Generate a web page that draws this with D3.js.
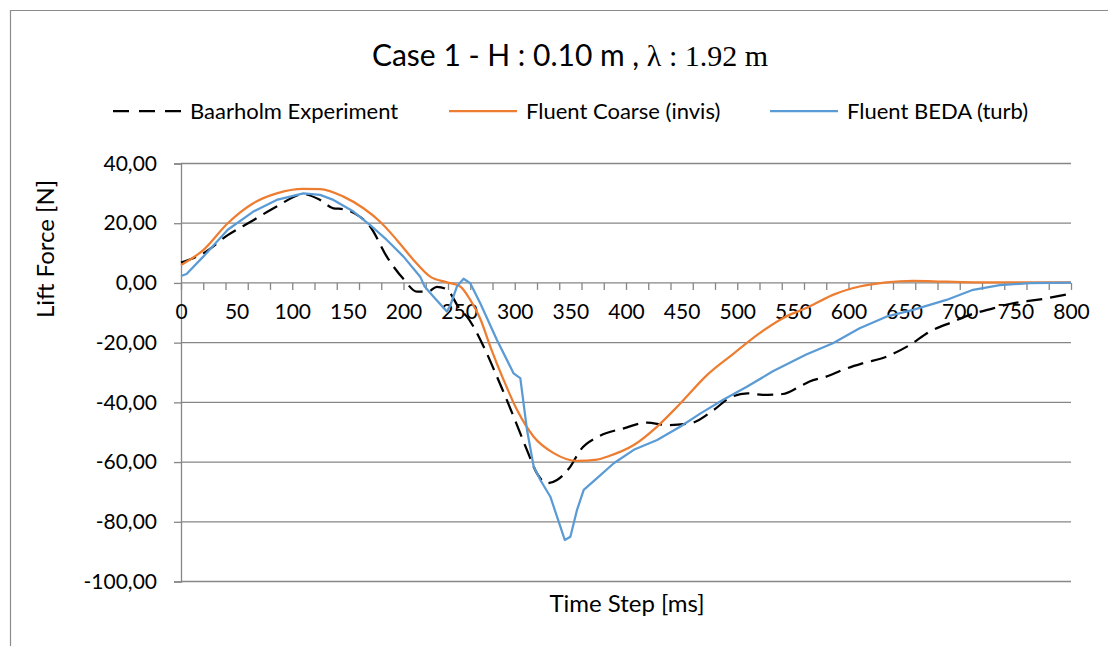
<!DOCTYPE html>
<html>
<head>
<meta charset="utf-8">
<script src="https://cdn.jsdelivr.net/npm/d3@7"></script>
<style>
  body { margin: 0; background: #fff; }
  text { font-family: Lato, "Open Sans", sans-serif; fill: #000; }
</style>
</head>
<body>
<div id="chart"></div>
<script>
// series data (time step [ms], lift force [N])
const expT = [0,20,42,65,86,110,125,137,146,156,170,185,200,212,222,230,239,251,257,272,284,299,311,320,329,338,350,359,374,398,419,437,458,479,494,509,523,541,556,565,580,595,613,634,655,673,694,709,730,748,769,800];
const expF = [6.8,9.9,16,21,25.6,29.7,27.8,25,24.7,23.3,18.9,8.8,1.3,-2.9,-2.9,-1.3,-2.2,-9,-11.3,-21.3,-31.4,-44.8,-56,-63.8,-67.1,-66,-61.5,-56,-51.7,-48.7,-46.8,-47.6,-47,-42.5,-38.3,-37,-37.5,-37.2,-34.7,-33,-31.4,-29.1,-26.9,-24.7,-20.8,-16.3,-13,-10.7,-8.5,-6.8,-5.7,-3.6];

const coarseT = [0,20,42,65,86,110,125,146,164,179,194,209,224,239,251,260,269,278,290,302,317,335,356,374,383,407,428,449,473,497,518,541,565,586,610,634,658,688,718,800];
const coarseF = [6,11,20,26.7,30,31.5,31.4,28.9,25,20.5,14.4,7.7,2.1,0.2,-1.2,-5.7,-12,-21.3,-32.5,-42.5,-51.5,-57,-59.6,-59.2,-58.2,-54.3,-48.1,-40.3,-30.8,-23.6,-17.4,-11.8,-7.9,-4,-1.2,0.2,0.7,0.4,0.2,0.2];

const bedaT = [0,5,20,42,65,86,110,125,137,155,170,185,200,215,219,227,239,242,248,254,260,269,284,299,303,305,311,317,323,332,341,345,350,356,362,374,389,407,428,449,467,487,509,532,562,586,610,634,658,688,712,736,763,800];
const bedaF = [2.3,3,8.8,17.8,23.9,27.8,30,29.5,27.8,23.9,19.4,14.4,8.8,2.1,-1.2,-4.6,-9.6,-7.6,-1.2,1.4,-0.1,-6.8,-19.1,-30.3,-31.4,-31.9,-49.2,-61.5,-66,-71.6,-81.6,-86.1,-85,-76,-69.3,-65.4,-60.4,-55.9,-52.6,-48.1,-43.7,-39.2,-34.7,-29.6,-24,-20.2,-15.2,-11.3,-9,-5.7,-2.3,-0.7,-0.1,0.1];

const seriesNames = ["Baarholm Experiment", "Fluent Coarse (invis)", "Fluent BEDA (turb)"];
const seriesColors = ["#000000", "#ED7D31", "#5B9BD5"];
const yTicks = [-100,-80,-60,-40,-20,0,20,40];
const xLabelTicks = d3.range(0, 801, 50);
const xMinorTicks = d3.range(0, 801, 20);

const width = 1108, height = 646;
const margin = {top: 163.5, right: 37, bottom: 64.5, left: 181};

const svg = d3.select("#chart").append("svg")
  .attr("width", width)
  .attr("height", height);

svg.append("rect").attr("width", width).attr("height", height).attr("fill", "#fff");

// outer frame (only top and left edges show)
svg.append("path")
  .attr("d", "M10.5," + height + "V10.5H" + width)
  .attr("fill", "none")
  .attr("stroke", "#8c8c8c")
  .attr("stroke-width", 1.2);

const x = d3.scaleLinear().domain([0, 800]).range([margin.left, width - margin.right]);
const y = d3.scaleLinear().domain([-100, 40]).range([height - margin.bottom, margin.top]);

const loc = d3.formatLocale({decimal: ",", thousands: ".", grouping: [3], currency: ["", ""], minus: "-"});
const fmt = loc.format(".2f");

const gridColor = "#868686";

// horizontal gridlines
svg.append("g").selectAll("line")
  .data(yTicks).enter().append("line")
  .attr("x1", x(0)).attr("x2", x(800))
  .attr("y1", d => y(d)).attr("y2", d => y(d))
  .attr("stroke", gridColor)
  .attr("stroke-width", 1.3);

// y axis
const yAxisG = svg.append("g")
  .attr("transform", "translate(" + x(0) + ",0)")
  .call(d3.axisLeft(y).tickValues(yTicks).tickSize(7).tickPadding(17).tickFormat(fmt));
yAxisG.select(".domain").attr("stroke", gridColor).attr("stroke-width", 1.3);
yAxisG.selectAll(".tick line").attr("stroke", gridColor).attr("stroke-width", 1.3);
yAxisG.selectAll("text").style("font-size", "21px").attr("fill", "#000");

// x axis sits on zero
const xTickG = svg.append("g")
  .attr("transform", "translate(0," + y(0) + ")")
  .call(d3.axisBottom(x).tickValues(xMinorTicks).tickSize(7).tickFormat(""));
xTickG.select(".domain").remove();
xTickG.selectAll(".tick line").attr("stroke", gridColor).attr("stroke-width", 1.3);

const xLabG = svg.append("g")
  .attr("transform", "translate(0," + y(0) + ")")
  .call(d3.axisBottom(x).tickValues(xLabelTicks).tickSize(0).tickPadding(21).tickFormat(d3.format("d")));
xLabG.select(".domain").remove();
xLabG.selectAll("text").style("font-size", "21px").attr("fill", "#000");

// lines
const line = d3.line()
  .x(d => x(d[0]))
  .y(d => y(d[1]));

const seriesData = [
  d3.zip(expT, expF),
  d3.zip(coarseT, coarseF),
  d3.zip(bedaT, bedaF)
];
const curves = [d3.curveMonotoneX, d3.curveMonotoneX, d3.curveLinear];

seriesData.forEach(function(s, i) {
  svg.append("path")
    .datum(s)
    .attr("fill", "none")
    .attr("stroke", seriesColors[i])
    .attr("stroke-width", 2.25)
    .attr("stroke-linejoin", "round")
    .attr("stroke-dasharray", i === 0 ? "16,8" : null)
    .attr("d", line.curve(curves[i]));
});

// title
const title = svg.append("text")
  .attr("x", 570)
  .attr("y", 66)
  .attr("text-anchor", "middle")
  .style("font-size", "30px");
title.append("tspan").text("Case 1 - H : 0.10 m , ");
title.append("tspan").style("font-family", "'Liberation Serif', serif").text("λ : 1.92 m");

// legend
const legendX = [113, 449, 770];
const legend = svg.append("g");
seriesNames.forEach(function(name, i) {
  legend.append("line")
    .attr("x1", legendX[i]).attr("x2", legendX[i] + 68)
    .attr("y1", 111).attr("y2", 111)
    .attr("stroke", seriesColors[i])
    .attr("stroke-width", 2.25)
    .attr("stroke-dasharray", i === 0 ? "16,10" : null);
  legend.append("text")
    .attr("x", legendX[i] + 77)
    .attr("y", 119)
    .style("font-size", "22px")
    .text(name);
});

// axis titles
svg.append("text")
  .attr("transform", "translate(54," + 249 + ") rotate(-90)")
  .attr("text-anchor", "middle")
  .style("font-size", "24px")
  .text("Lift Force [N]");

svg.append("text")
  .attr("x", 627)
  .attr("y", 612)
  .attr("text-anchor", "middle")
  .style("font-size", "24px")
  .text("Time Step [ms]");
</script>
</body>
</html>
